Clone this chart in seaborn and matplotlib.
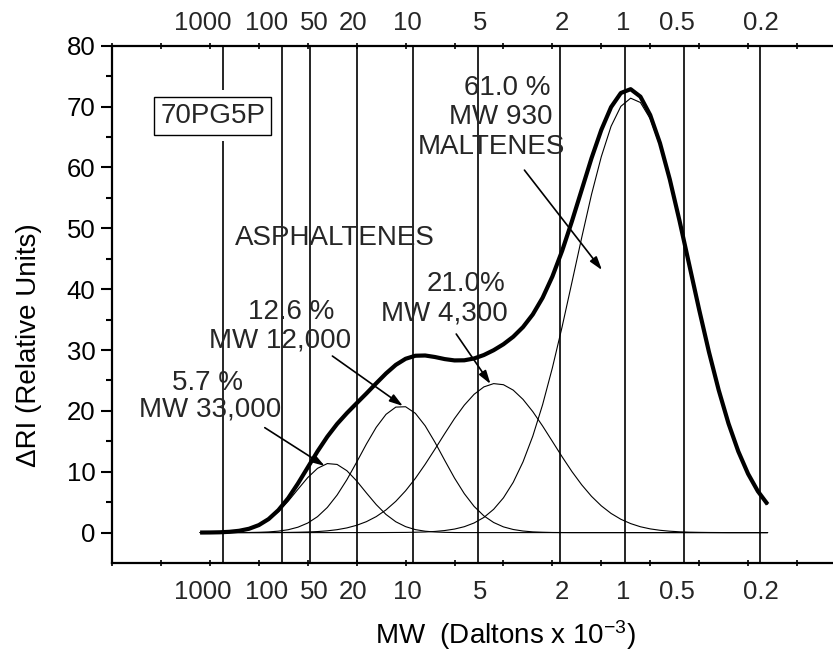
import pandas as pd
import seaborn as sns
import matplotlib
matplotlib.use("Agg")
import matplotlib.pyplot as plt
from matplotlib.ticker import FixedLocator

# elution axis (arbitrary units, one tick per unit) and the fitted peaks
x = [1.8, 2.0, 2.2, 2.4, 2.6, 2.8, 3.0, 3.2, 3.4, 3.6, 3.8, 4.0, 4.2, 4.4, 4.6,
     4.8, 5.0, 5.2, 5.4, 5.6, 5.8, 6.0, 6.2, 6.4, 6.6, 6.8, 7.0, 7.2, 7.4, 7.6,
     7.8, 8.0, 8.2, 8.4, 8.6, 8.8, 9.0, 9.2, 9.4, 9.6, 9.8, 10.0, 10.2, 10.4, 10.6,
     10.8, 11.0, 11.2, 11.4, 11.6, 11.8, 12.0, 12.2, 12.4, 12.6, 12.8, 13.0, 13.2, 13.4]

peak_33000 = [0.01, 0.02, 0.05, 0.13, 0.29, 0.61, 1.18, 2.10, 3.43, 5.15, 7.12, 9.04,
              10.56, 11.34, 11.20, 10.17, 8.49, 6.51, 4.60, 2.98, 1.78, 0.98, 0.49,
              0.23, 0.10, 0.04, 0.01] + [0.0] * 32
peak_12000 = [0.0] * 4 + [0.01, 0.02, 0.05, 0.11, 0.24, 0.47, 0.89, 1.57, 2.62, 4.13,
              6.17, 8.69, 11.57, 14.56, 17.30, 19.43, 20.62, 20.68, 19.60, 17.55,
              14.85, 11.87, 8.96, 6.40, 4.31, 2.75, 1.66, 0.94, 0.51, 0.26, 0.12,
              0.06, 0.02, 0.01] + [0.0] * 21
peak_4300 = [0.0] * 7 + [0.01, 0.02, 0.03, 0.06, 0.10, 0.17, 0.29, 0.48, 0.77, 1.20,
             1.80, 2.63, 3.73, 5.14, 6.87, 8.91, 11.22, 13.71, 16.26, 18.74, 20.94,
             22.72, 23.94, 24.48, 24.30, 23.41, 21.89, 19.88, 17.52, 14.99, 12.45,
             10.03, 7.85, 5.96, 4.40, 3.15, 2.19, 1.48, 0.96, 0.61, 0.38, 0.23,
             0.13, 0.07, 0.04, 0.02, 0.01] + [0.0] * 5
peak_930 = [0.0] * 19 + [0.01, 0.02, 0.03, 0.06, 0.10, 0.19, 0.34, 0.58, 0.97, 1.58,
            2.49, 3.83, 5.71, 8.26, 11.62, 15.85, 21.00, 27.06, 33.84, 41.13, 48.48,
            55.55, 61.76, 66.76, 70.04, 71.38, 70.67, 68.00, 63.60, 57.81, 51.07,
            43.86, 36.60, 29.68, 23.40, 17.93, 13.35, 9.66, 6.80, 4.65]
total = [0.01, 0.02, 0.05, 0.13, 0.30, 0.63, 1.23, 2.22, 3.69, 5.65, 8.07, 10.71,
         13.35, 15.76, 17.85, 19.63, 21.26, 22.87, 24.53, 26.15, 27.56, 28.56, 29.06,
         29.10, 28.85, 28.51, 28.29, 28.31, 28.61, 29.18, 29.97, 30.95, 32.18, 33.77,
         35.85, 38.58, 42.07, 46.30, 51.16, 56.33, 61.51, 66.16, 69.91, 72.23, 72.86,
         71.63, 68.61, 63.98, 58.04, 51.20, 43.93, 36.64, 29.70, 23.41, 17.93, 13.35,
         9.66, 6.80, 4.65]

# MW calibration lines and their labels (top and bottom)
mw_lines = [2.265, 3.469, 4.041, 5.0, 6.149, 7.49, 9.163, 10.49, 11.694, 13.245]
mw_labels = ["1000", "100", "50", "20", "10", "5", "2", "1", "0.5", "0.2"]
mw_label_x = [1.857, 3.163, 4.143, 4.918, 6.04, 7.531, 9.204, 10.449, 11.551, 13.265]

sns.set_theme(style="ticks")
plt.rcParams["font.family"] = ["Liberation Sans", "DejaVu Sans"]
plt.rcParams["mathtext.fontset"] = "custom"
plt.rcParams["mathtext.rm"] = "Liberation Sans"
plt.rcParams["mathtext.it"] = "Liberation Sans:italic"

fig = plt.figure(figsize=(8.33, 6.54), dpi=100)
ax = fig.add_axes([0.1345, 0.1391, 0.881, 0.791])

ax.vlines(mw_lines, -5, 80, colors="black", lw=1.2, zorder=1)

peaks = pd.concat([
    pd.DataFrame({"x": x, "ri": vals, "peak": name})
    for name, vals in [("33000", peak_33000), ("12000", peak_12000),
                       ("4300", peak_4300), ("930", peak_930)]
])
sns.lineplot(data=peaks, x="x", y="ri", units="peak", estimator=None,
             color="black", lw=0.8, ax=ax, legend=False, zorder=2,
             solid_joinstyle="round")
sns.lineplot(x=x, y=total, color="black", lw=3, ax=ax, zorder=3,
             solid_joinstyle="round", solid_capstyle="butt")

ax.set_xlim(0, 15)
ax.set_ylim(-5, 80)
ax.set_xticks(range(0, 16))
ax.tick_params(axis="x", which="both", top=True, bottom=True, direction="inout",
               length=4, width=1.2, labelbottom=False, color="black")
ax.set_yticks(range(0, 81, 10))
ax.yaxis.set_minor_locator(FixedLocator(range(5, 80, 10)))
ax.tick_params(axis="y", which="major", direction="out", length=8, width=1.5,
               labelsize=18.5, pad=4, color="black", labelcolor="black")
ax.tick_params(axis="y", which="minor", direction="out", length=4, width=1.5, color="black")
for s in ["left", "top", "bottom"]:
    ax.spines[s].set_linewidth(1.6)
    ax.spines[s].set_color("black")
ax.spines["right"].set_visible(False)

for pos, lab in zip(mw_label_x, mw_labels):
    ax.text(pos, 83.8, lab, ha="center", va="center", fontsize=18.5, clip_on=False)
    ax.text(pos, -9.7, lab, ha="center", va="center", fontsize=18.5, clip_on=False)

ax.set_xlabel("MW  (Daltons x 10$^{-3}$)", fontsize=20, color="black")
ax.xaxis.set_label_coords(0.536, -0.139)
ax.xaxis.label.set_va("center")
ax.set_ylabel("\u0394RI (Relative Units)", fontsize=20, color="black", va="center")
ax.yaxis.set_label_coords(-0.113, 0.421)

# sample tag
ax.text(2.061, 68.5, "70PG5P", ha="center", va="center", fontsize=20, color="white",
        bbox=dict(boxstyle="square,pad=0.45", fc="white", ec="none"), zorder=4)
ax.text(2.061, 68.5, "70PG5P", ha="center", va="center", fontsize=20,
        bbox=dict(boxstyle="square,pad=0.22", fc="white", ec="black", lw=1), zorder=5)

labels = [
    (4.551, 48.37, "ASPHALTENES"),
    (3.653, 36.24, "12.6 %"), (3.439, 31.64, "MW 12,000"),
    (7.245, 40.84, "21.0%"), (6.796, 36.08, "MW 4,300"),
    (1.959, 24.58, "5.7 %"), (2.010, 20.15, "MW 33,000"),
    (8.082, 73.02, "61.0 %"), (7.949, 68.26, "MW 930"), (7.745, 63.33, "MALTENES"),
]
for tx, ty, s in labels:
    ax.text(tx, ty, s, ha="center", va="center", fontsize=20, zorder=6)

arrows = [
    ((3.122, 17.24), (4.347, 10.95)),
    ((4.504, 29.01), (5.945, 20.8)),
    ((7.035, 32.63), (7.735, 24.42)),
    ((8.429, 59.56), (10.014, 43.14)),
]
for tail, head in arrows:
    ax.annotate("", xy=head, xytext=tail,
                arrowprops=dict(arrowstyle="-|>,head_length=0.8,head_width=0.25",
                                mutation_scale=10, color="black", lw=1.2,
                                shrinkA=0, shrinkB=0), zorder=6)

fig.savefig("out.png", dpi=100)
